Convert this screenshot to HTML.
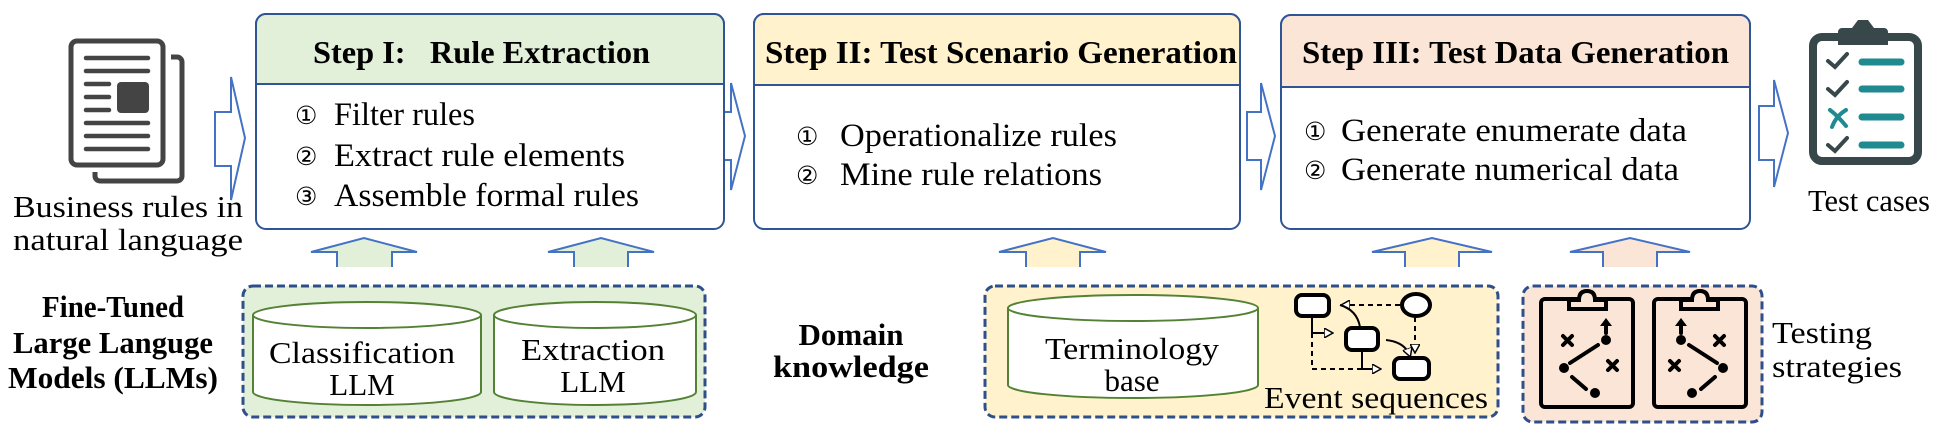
<!DOCTYPE html>
<html><head><meta charset="utf-8"><style>
html,body{margin:0;padding:0;background:#fff;}
svg{display:block;}
text{font-family:"Liberation Serif",serif;fill:#000;}
.b{font-weight:bold;}
</style></head><body>
<svg width="1941" height="436" viewBox="0 0 1941 436" xmlns="http://www.w3.org/2000/svg">
<defs>
<marker id="ah" markerWidth="10" markerHeight="10" refX="8" refY="5" orient="auto" markerUnits="userSpaceOnUse"><path d="M0,0 L9,5 L0,10 Z" fill="#fff" stroke="#000" stroke-width="1.5"/></marker>
</defs>

<!-- document icon -->
<g fill="none" stroke="#444" stroke-width="5">
  <path d="M171,57 h6 a5,5 0 0 1 5,5 v114 a5,5 0 0 1 -5,5 h-77 a5,5 0 0 1 -5,-5 v-4"/>
  <rect x="71" y="41" width="92" height="124" rx="6"/>
</g>
<g stroke="#444" stroke-width="4.5" stroke-linecap="round">
  <line x1="86" y1="58" x2="148" y2="58"/><line x1="86" y1="71" x2="148" y2="71"/>
  <line x1="86" y1="84" x2="109" y2="84"/><line x1="86" y1="97" x2="109" y2="97"/><line x1="86" y1="110" x2="109" y2="110"/>
  <line x1="86" y1="123" x2="148" y2="123"/><line x1="86" y1="136" x2="148" y2="136"/><line x1="86" y1="149" x2="148" y2="149"/>
</g>
<rect x="117" y="82" width="32" height="31" rx="4" fill="#444"/>
<text x="128" y="217" font-size="31" text-anchor="middle" textLength="230" lengthAdjust="spacingAndGlyphs">Business rules in</text>
<text x="128" y="250" font-size="31" text-anchor="middle" textLength="230" lengthAdjust="spacingAndGlyphs">natural language</text>

<!-- right arrows -->
<g fill="#fff" stroke="#4472c4" stroke-width="2">
  <path d="M215,112 H231 V77 L245,138 L231,200 V166 H215 Z"/>
  <path d="M716,112 H731 V83 L745,136 L731,190 V160 H716 Z"/>
  <path d="M1247,112 H1261 V83 L1275,136 L1261,190 V160 H1247 Z"/>
  <path d="M1759,106 H1774 V80 L1788,133 L1774,187 V160 H1759 Z"/>
</g>

<!-- box 1 -->
<rect x="256" y="14" width="468" height="215" rx="10" fill="#fff" stroke="#2f5597" stroke-width="2"/>
<path d="M256,84 V24 a10,10 0 0 1 10,-10 H714 a10,10 0 0 1 10,10 V84 Z" fill="#e2efd9" stroke="#2f5597" stroke-width="2"/>
<text x="313" y="63" font-size="32" class="b" textLength="337" lengthAdjust="spacingAndGlyphs">Step I:&#160;&#160; Rule Extraction</text>
<text x="295" y="124" font-size="25">①</text><text x="334" y="125" font-size="33" textLength="141" lengthAdjust="spacingAndGlyphs">Filter rules</text>
<text x="295" y="165" font-size="25">②</text><text x="334" y="166" font-size="33" textLength="291" lengthAdjust="spacingAndGlyphs">Extract rule elements</text>
<text x="295" y="205" font-size="25">③</text><text x="334" y="206" font-size="33" textLength="305" lengthAdjust="spacingAndGlyphs">Assemble formal rules</text>

<!-- box 2 -->
<rect x="754" y="14" width="486" height="215" rx="10" fill="#fff" stroke="#2f5597" stroke-width="2"/>
<path d="M754,85 V24 a10,10 0 0 1 10,-10 H1230 a10,10 0 0 1 10,10 V85 Z" fill="#fff2cc" stroke="#2f5597" stroke-width="2"/>
<text x="765" y="63" font-size="32" class="b" textLength="472" lengthAdjust="spacingAndGlyphs">Step II: Test Scenario Generation</text>
<text x="796" y="145" font-size="25">①</text><text x="840" y="146" font-size="33" textLength="277" lengthAdjust="spacingAndGlyphs">Operationalize rules</text>
<text x="796" y="184" font-size="25">②</text><text x="840" y="185" font-size="33" textLength="262" lengthAdjust="spacingAndGlyphs">Mine rule relations</text>

<!-- box 3 -->
<rect x="1281" y="15" width="469" height="214" rx="10" fill="#fff" stroke="#2f5597" stroke-width="2"/>
<path d="M1281,87 V25 a10,10 0 0 1 10,-10 H1740 a10,10 0 0 1 10,10 V87 Z" fill="#fbe5d6" stroke="#2f5597" stroke-width="2"/>
<text x="1302" y="63" font-size="32" class="b" textLength="427" lengthAdjust="spacingAndGlyphs">Step III: Test Data Generation</text>
<text x="1304" y="140" font-size="25">①</text><text x="1341" y="141" font-size="33" textLength="346" lengthAdjust="spacingAndGlyphs">Generate enumerate data</text>
<text x="1304" y="179" font-size="25">②</text><text x="1341" y="180" font-size="33" textLength="338" lengthAdjust="spacingAndGlyphs">Generate numerical data</text>

<!-- test cases clipboard -->
<rect x="1813" y="37" width="105" height="124" rx="9" fill="#fff" stroke="#37474a" stroke-width="8"/>
<path d="M1838,45 V32 a4,4 0 0 1 4,-4 H1852 L1858,20 H1868 L1874,28 H1884 a4,4 0 0 1 4,4 V45 Z" fill="#37474a"/>
<g fill="none" stroke="#37474a" stroke-width="4" stroke-linecap="round">
  <path d="M1828,61 l7,6 l12,-13"/><path d="M1828,89 l7,6 l12,-13"/><path d="M1828,145 l7,6 l12,-13"/>
</g>
<path d="M1830,110 Q1838,116 1846,126 M1846,110 Q1836,116 1832,127" fill="none" stroke="#1f8a8f" stroke-width="4" stroke-linecap="round"/>
<g stroke="#1f8a8f" stroke-width="7" stroke-linecap="round">
  <line x1="1862" y1="62" x2="1901" y2="62"/><line x1="1862" y1="89" x2="1901" y2="89"/>
  <line x1="1862" y1="117" x2="1901" y2="117"/><line x1="1862" y1="145" x2="1901" y2="145"/>
</g>
<text x="1869" y="211" font-size="31" text-anchor="middle" textLength="122" lengthAdjust="spacingAndGlyphs">Test cases</text>

<!-- up arrows -->
<g stroke="#4472c4" stroke-width="2">
  <path d="M337,267 V252 H311 L364,238 L417,252 H392 V267" fill="#e2efd9"/>
  <path d="M574,267 V252 H548 L601,238 L654,252 H628 V267" fill="#e2efd9"/>
  <path d="M1026,267 V252 H999 L1053,238 L1106,252 H1080 V267" fill="#fff2cc"/>
  <path d="M1405,267 V252 H1372 L1432,238 L1492,252 H1459 V267" fill="#fff2cc"/>
  <path d="M1603,267 V252 H1570 L1630,238 L1690,252 H1657 V267" fill="#fbe5d6"/>
</g>

<!-- LLM box -->
<text x="113" y="317" font-size="31" class="b" text-anchor="middle" textLength="142" lengthAdjust="spacingAndGlyphs">Fine-Tuned</text>
<text x="113" y="353" font-size="31" class="b" text-anchor="middle" textLength="200" lengthAdjust="spacingAndGlyphs">Large Languge</text>
<text x="113" y="388" font-size="31" class="b" text-anchor="middle" textLength="210" lengthAdjust="spacingAndGlyphs">Models (LLMs)</text>
<rect x="243" y="286" width="462" height="131" rx="10" fill="#e2efd9" stroke="#2f4f8a" stroke-width="3" stroke-dasharray="8,4"/>
<g fill="#fff" stroke="#548235" stroke-width="2">
  <path d="M253,315 V392 A114,13 0 0 0 481,392 V315"/><ellipse cx="367" cy="315" rx="114" ry="13"/>
  <path d="M494,315 V392 A101,13 0 0 0 696,392 V315"/><ellipse cx="595" cy="315" rx="101" ry="13"/>
</g>
<text x="362" y="363" font-size="31" text-anchor="middle" textLength="186" lengthAdjust="spacingAndGlyphs">Classification</text>
<text x="362" y="395" font-size="31" text-anchor="middle">LLM</text>
<text x="593" y="360" font-size="31" text-anchor="middle" textLength="144" lengthAdjust="spacingAndGlyphs">Extraction</text>
<text x="593" y="392" font-size="31" text-anchor="middle">LLM</text>

<text x="851" y="345" font-size="31" class="b" text-anchor="middle">Domain</text>
<text x="851" y="377" font-size="31" class="b" text-anchor="middle" textLength="156" lengthAdjust="spacingAndGlyphs">knowledge</text>

<!-- domain box -->
<rect x="985" y="286" width="513" height="131" rx="10" fill="#fff2cc" stroke="#2f4f8a" stroke-width="3" stroke-dasharray="8,4"/>
<path d="M1008,308 V385 A125,13 0 0 0 1258,385 V308" fill="#fff" stroke="#548235" stroke-width="2"/>
<ellipse cx="1133" cy="308" rx="125" ry="13" fill="#fff" stroke="#548235" stroke-width="2"/>
<text x="1132" y="359" font-size="31" text-anchor="middle" textLength="174" lengthAdjust="spacingAndGlyphs">Terminology</text>
<text x="1132" y="391" font-size="31" text-anchor="middle">base</text>
<g fill="none" stroke="#000" stroke-width="2">
  <path d="M1312,316 V333 H1332" marker-end="url(#ah)"/>
  <path d="M1312,333 V369 H1370" stroke-dasharray="5,4"/>
  <path d="M1362,350 V369 H1380" marker-end="url(#ah)"/>
  <path d="M1400,305 H1342" stroke-dasharray="5,4" marker-end="url(#ah)"/>
  <path d="M1360,327 Q1357,310 1340,305" />
  <path d="M1415,317 V352" stroke-dasharray="5,4" marker-end="url(#ah)"/>
  <path d="M1386,340 Q1405,342 1410,356" marker-end="url(#ah)"/>
</g>
<g fill="#fff" stroke="#000" stroke-width="4">
  <rect x="1296" y="295" width="33" height="21" rx="6"/>
  <ellipse cx="1416" cy="305" rx="14" ry="11"/>
  <rect x="1346" y="328" width="32" height="22" rx="6"/>
  <rect x="1394" y="358" width="35" height="21" rx="6"/>
</g>
<text x="1376" y="408" font-size="31" text-anchor="middle" textLength="224" lengthAdjust="spacingAndGlyphs">Event sequences</text>

<!-- testing strategies box -->
<rect x="1523" y="286" width="239" height="136" rx="10" fill="#fbe5d6" stroke="#2f4f8a" stroke-width="3" stroke-dasharray="8,4"/>
<g id="cb">
  <rect x="1541" y="299" width="92" height="108" rx="4" fill="none" stroke="#000" stroke-width="4"/>
  <path d="M1569,300 V309 H1606 V300 H1595 Q1595,291 1587,291 Q1579,291 1579,300 Z" fill="#fbe5d6" stroke="#000" stroke-width="4"/>
  <g stroke="#000" stroke-width="4" stroke-linecap="round">
    <line x1="1563" y1="336" x2="1572" y2="345"/><line x1="1572" y1="336" x2="1563" y2="345"/>
    <line x1="1608" y1="361" x2="1617" y2="370"/><line x1="1617" y1="361" x2="1608" y2="370"/>
    <line x1="1570" y1="363" x2="1598" y2="345"/><line x1="1572" y1="377" x2="1586" y2="389"/>
    <line x1="1606" y1="333" x2="1606" y2="324"/>
  </g>
  <circle cx="1564" cy="368" r="5"/><circle cx="1606" cy="340" r="5"/><circle cx="1595" cy="393" r="5"/>
  <path d="M1600,326 L1606,318 L1612,326 Z"/>
</g>
<use href="#cb" transform="translate(3287,0) scale(-1,1)"/>
<text x="1772" y="343" font-size="31" textLength="100" lengthAdjust="spacingAndGlyphs">Testing</text>
<text x="1772" y="377" font-size="31" textLength="130" lengthAdjust="spacingAndGlyphs">strategies</text>
</svg>
</body></html>
